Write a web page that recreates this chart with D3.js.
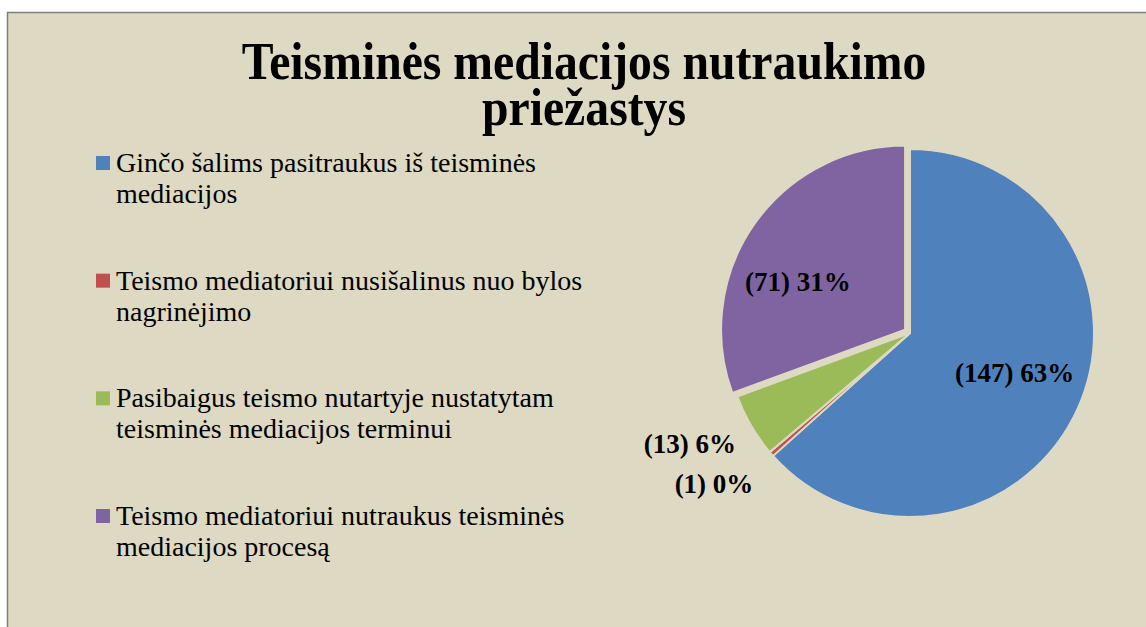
<!DOCTYPE html>
<html>
<head>
<meta charset="utf-8">
<script src="https://cdn.jsdelivr.net/npm/d3@7.9.0/dist/d3.min.js"></script>
<style>
  body { margin: 0; background: #fff; }
  svg { display: block; }
  text { font-family: 'Liberation Serif', 'Times New Roman', serif; }
</style>
</head>
<body>
<svg id="chart"></svg>
<script>
// Chart data
const titleLines = ['Teisminės mediacijos nutraukimo', 'priežastys'];
const categories = [
  ['Ginčo šalims pasitraukus iš teisminės', 'mediacijos'],
  ['Teismo mediatoriui nusišalinus nuo bylos', 'nagrinėjimo'],
  ['Pasibaigus teismo nutartyje nustatytam', 'teisminės mediacijos terminui'],
  ['Teismo mediatoriui nutraukus teisminės', 'mediacijos procesą']
];
const counts = [147, 1, 13, 71];
const percents = ['63%', '0%', '6%', '31%'];
const colors = ['#4f81bd', '#c0504d', '#9bbb59', '#8064a2'];

const width = 1146;
const height = 627;
const bg = '#ddd9c3';

const svg = d3.select('#chart')
  .attr('width', width)
  .attr('height', height);

// chart area with border (runs off the right and bottom edge)
svg.append('rect')
  .attr('x', 7.5).attr('y', 12.5)
  .attr('width', width + 10).attr('height', height + 10)
  .attr('fill', bg)
  .attr('stroke', '#7f7f7f')
  .attr('stroke-width', 1.5);

// Title (tall, slightly condensed)
svg.append('g')
  .attr('transform', 'translate(584, 0) scale(0.9, 1)')
  .selectAll('text')
  .data(titleLines)
  .join('text')
  .attr('x', 0)
  .attr('y', (d, i) => 79 + i * 46)
  .attr('text-anchor', 'middle')
  .attr('font-size', 53)
  .attr('font-weight', 'bold')
  .attr('fill', '#000')
  .text(d => d);

// Legend
const legend = svg.append('g').attr('transform', 'translate(96, 0)');
const itemY = d3.scaleLinear().domain([0, 3]).range([172, 525]);

const items = legend.selectAll('g')
  .data(categories)
  .join('g')
  .attr('transform', (d, i) => `translate(0, ${itemY(i)})`);

items.append('rect')
  .attr('x', 0).attr('y', -16)
  .attr('width', 14).attr('height', 14)
  .attr('fill', (d, i) => colors[i]);

items.append('text')
  .attr('font-size', 28)
  .attr('fill', '#000')
  .selectAll('tspan')
  .data(d => d)
  .join('tspan')
  .attr('x', 20)
  .attr('y', (d, i) => i * 31)
  .text(d => d);

// Pie
const cx = 910, cy = 333, radius = 184;

const pie = d3.pie().sort(null).value(d => d);
const arcs = pie(counts);

const arc = d3.arc().innerRadius(0).outerRadius(radius);
const explode = [0, 0, 0, 6];

const pieG = svg.append('g').attr('transform', `translate(${cx}, ${cy})`);

const mid = d => (d.startAngle + d.endAngle) / 2;

pieG.selectAll('path')
  .data(arcs)
  .join('path')
  .attr('d', arc)
  .attr('transform', (d, i) =>
    `translate(${Math.sin(mid(d)) * explode[i]}, ${-Math.cos(mid(d)) * explode[i]})`)
  .attr('fill', (d, i) => colors[i])
  .attr('stroke', bg)
  .attr('stroke-width', 2)
  .attr('stroke-linejoin', 'round');

// Data labels: big slices inside, small slices outside
const labelRadius = [0.61, 1.345, 1.34, 0.67];
const labelTurn = [-0.05, 0.061, 0.061, -0.18];

pieG.selectAll('text')
  .data(arcs)
  .join('text')
  .attr('x', (d, i) => Math.sin(mid(d) + labelTurn[i]) * radius * labelRadius[i])
  .attr('y', (d, i) => -Math.cos(mid(d) + labelTurn[i]) * radius * labelRadius[i])
  .attr('dy', '0.33em')
  .attr('text-anchor', 'middle')
  .attr('font-size', 27)
  .attr('font-weight', 'bold')
  .attr('fill', '#000')
  .text((d, i) => `(${counts[i]}) ${percents[i]}`);
</script>
</body>
</html>
